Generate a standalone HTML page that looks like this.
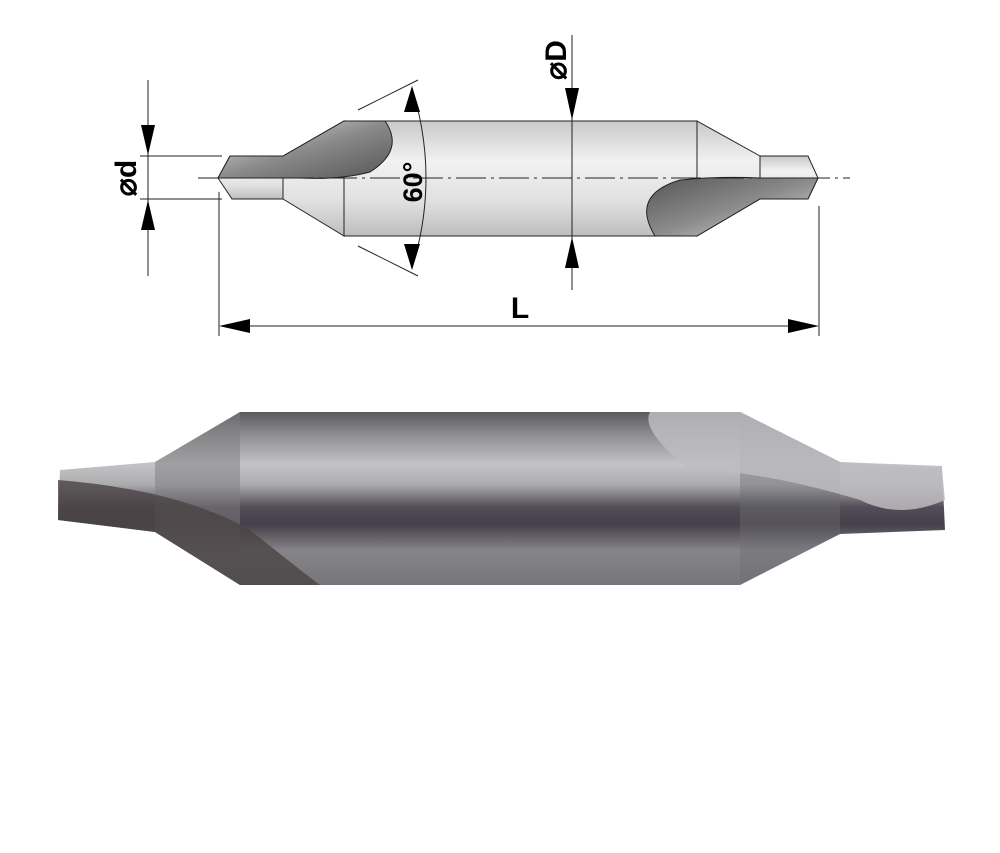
<!DOCTYPE html>
<html><head><meta charset="utf-8"><style>
html,body{margin:0;padding:0;background:#fff;}
svg{display:block;}
text{font-family:"Liberation Sans",sans-serif;font-weight:bold;}
</style></head><body>
<svg width="1000" height="853" viewBox="0 0 1000 853" xmlns="http://www.w3.org/2000/svg">
<defs>
<linearGradient id="cyl" x1="0" y1="0" x2="0" y2="1">
<stop offset="0" stop-color="#c8c8c8"/><stop offset="0.35" stop-color="#f2f2f2"/><stop offset="0.7" stop-color="#e0e0e0"/><stop offset="1" stop-color="#bdbdbd"/></linearGradient>
<linearGradient id="flute" x1="0" y1="0" x2="1" y2="1">
<stop offset="0" stop-color="#e8e8e8"/><stop offset="0.5" stop-color="#8a8a8a"/><stop offset="1" stop-color="#555"/></linearGradient>
<linearGradient id="flute2" x1="1" y1="1" x2="0" y2="0">
<stop offset="0" stop-color="#e0e0e0"/><stop offset="0.5" stop-color="#8a8a8a"/><stop offset="1" stop-color="#555"/></linearGradient>
<linearGradient id="metal" x1="0" y1="0" x2="0" y2="1">
<stop offset="0" stop-color="#5a5a5c"/><stop offset="0.12" stop-color="#8a898b"/><stop offset="0.3" stop-color="#c4c3c5"/><stop offset="0.42" stop-color="#acabae"/><stop offset="0.55" stop-color="#524d58"/><stop offset="0.65" stop-color="#45404a"/><stop offset="0.8" stop-color="#858488"/><stop offset="1" stop-color="#77767a"/></linearGradient>
</defs>

<g stroke="#222" stroke-width="1">
<rect x="344" y="121" width="353" height="115" fill="url(#cyl)"/>
<polygon points="283,156 344,121 344,236 283,199" fill="url(#cyl)"/>
<polygon points="697,121 760,156 760,199 697,236" fill="url(#cyl)"/>
<polygon points="230,156 283,156 283,199 232,199 218,178" fill="url(#cyl)"/>
<polygon points="760,156 808,156 818,178 808,199 760,199" fill="url(#cyl)"/>
<path d="M218,178 L230,156 L283,156 L344,121 L385,121 Q405,150 370,172 Q340,180 300,178 Z" fill="url(#flute)"/>
<path d="M818,178 L808,199 L760,199 L697,236 L655,236 Q630,195 680,180 Q720,176 760,178 Z" fill="url(#flute2)"/>
</g>
<g stroke="#222" stroke-width="1" fill="none">
<line x1="198" y1="178" x2="850" y2="178" stroke-dasharray="30,5,3,5"/>
<line x1="572" y1="35" x2="572" y2="290"/>
<line x1="140" y1="156" x2="222" y2="156"/>
<line x1="140" y1="199" x2="222" y2="199"/>
<line x1="148" y1="80" x2="148" y2="276"/>
<line x1="219" y1="192" x2="219" y2="336"/>
<line x1="819" y1="206" x2="819" y2="336"/>
<line x1="230" y1="326" x2="808" y2="326"/>
<line x1="358" y1="110" x2="418" y2="80"/>
<line x1="358" y1="246" x2="418" y2="276"/>
<path d="M412,88 Q440,178 412,268"/>
</g>
<g fill="#000">
<polygon points="141,125 155,125 148,155"/>
<polygon points="141,230 155,230 148,200"/>
<polygon points="565,88 579,88 572,120"/>
<polygon points="565,268 579,268 572,237"/>
<polygon points="219,326 250,319 250,333"/>
<polygon points="819,326 788,319 788,333"/>
<polygon points="412,86 404,112 420,112"/>
<polygon points="412,270 404,244 420,244"/>
</g>
<text transform="translate(136,178) rotate(-90)" font-size="30" text-anchor="middle">⌀d</text>
<text transform="translate(566,60) rotate(-90)" font-size="30" text-anchor="middle">⌀D</text>
<text transform="translate(422,182) rotate(-90)" font-size="27" text-anchor="middle">60°</text>
<text x="520" y="318" font-size="30" text-anchor="middle">L</text>

<polygon points="60,470 155,462 240,412 740,412 840,462 942,466 945,530 840,534 740,585 240,585 155,532 58,520" fill="url(#metal)"/>
<polygon points="155,462 240,412 240,585 155,532" fill="#7d7c80" opacity="0.5"/>
<polygon points="740,412 840,462 840,534 740,585" fill="#6e6d72" opacity="0.4"/>
<path d="M58,480 Q180,490 250,530 Q300,570 320,585 L240,585 L155,532 L58,520 Z" fill="#4a4444" opacity="0.8"/>
<path d="M650,412 L740,412 L840,462 L942,470 L945,500 Q900,520 860,500 Q760,470 690,470 Q640,430 650,412 Z" fill="#bdbcbf" opacity="0.85"/>
</svg>
</body></html>
